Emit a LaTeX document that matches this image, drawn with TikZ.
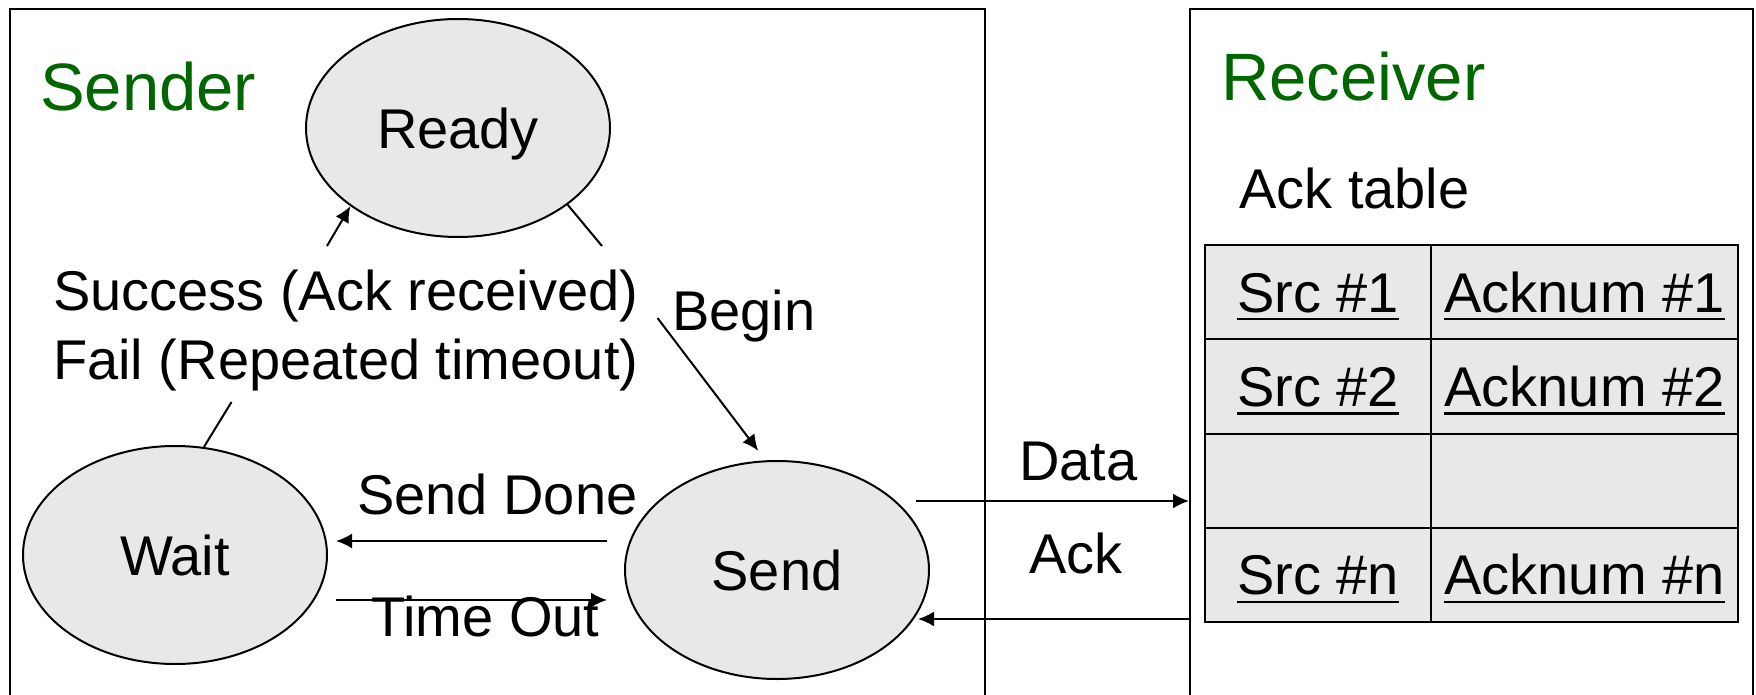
\documentclass[tikz,border=0pt]{standalone}
\usepackage{fontspec}
\setmainfont{Liberation Sans}
\usetikzlibrary{shapes.geometric,arrows.meta,calc}

\definecolor{cellgray}{RGB}{232,232,232}
\definecolor{titlegreen}{RGB}{0,102,0}

\tikzset{
  lbl/.style={font=\fontsize{56}{67}\selectfont, inner sep=0pt, anchor=base west},
  title/.style={font=\fontsize{67}{80}\selectfont, text=titlegreen, inner sep=0pt, anchor=base west},
  state/.style={ellipse, draw, line width=2pt, fill=cellgray, minimum width=304pt,
    minimum height=218pt, inner sep=0pt, font=\fontsize{56}{67}\selectfont,
    text height=40.1pt, text depth=0pt},
  frame/.style={draw, line width=2pt, inner sep=0pt},
  cell/.style={draw, line width=2pt, fill=cellgray, inner sep=0pt, anchor=north west},
  celltext/.style={font=\fontsize{56}{67}\selectfont, inner sep=0pt,
    text height=40.1pt, text depth=0pt},
  ulw/.style={line width=2.6pt},
  arr/.style={line width=2pt, -{Latex[length=16pt,width=15pt]}},
  plain/.style={line width=2pt},
}

\begin{document}
\begin{tikzpicture}[x=1pt,y=-1pt]
  \path[use as bounding box, clip] (0,0) rectangle (1756,695);
  \fill[white] (0,0) rectangle (1756,695);

  % enclosing frames (run past the lower edge)
  \node[frame, minimum width=975pt, minimum height=780pt] (sender) at (497.5,399) {};
  \node[frame, minimum width=563pt, minimum height=780pt] (recv) at (1471.5,399) {};
  \node[title] (sendtitle) at (40,111) {Sender};
  \node[title] (recvtitle) at (1221,101) {Receiver};

  % sender states
  \node[state] (ready) at (458,128) {Ready};
  \node[state] (wait) at (175,555) {Wait};
  \node[state] (send) at (777,570) {Send};

  % transition labels
  \node[lbl] (cond1) at (53,310) {Success (Ack received)};
  \node[lbl] (cond2) at (53,379) {Fail (Repeated timeout)};
  \node[lbl] (begin) at (672,330) {Begin};
  \node[lbl] (senddone) at (357,514) {Send Done};
  \node[lbl] (timeout) at (371,636) {Time Out};
  \node[lbl] (data) at (1019,480) {Data};
  \node[lbl] (ack) at (1029,573) {Ack};

  % transitions
  \coordinate (c1) at (327,246);
  \draw[arr] (c1) -- (ready.216.9);
  \coordinate (c2) at (602,246);
  \draw[plain] (ready.325.5) -- (c2);
  \coordinate (b1) at (657.5,318);
  \draw[arr, shorten >=12pt] (b1) -- (send.96.9);
  \coordinate (w1) at (231.5,402);
  \draw[plain] (w1) -- (wait.75);
  \draw[arr] ([shift={(-17,-29)}]send.west) -- ([shift={(8,-14)}]wait.east);
  \draw[arr] ([shift={(8,45)}]wait.east) -- ([shift={(-17,30)}]send.west);

  % messages between sender and receiver
  \coordinate (d0) at ([shift={(-14,-69)}]send.east);
  \draw[arr] (d0) -- (d0 -| recv.west);
  \coordinate (a0) at ([shift={(-12,49)}]send.east);
  \draw[arr] (a0 -| recv.west) -- (a0);

  % ack table
  \node[lbl] (tabletitle) at (1239,208) {Ack table};
  \foreach \r/\y in {1/244,2/338.25,3/432.5,4/526.75} {
    \node[cell, minimum width=226pt, minimum height=94.25pt] (l\r) at (1204,\y) {};
    \node[cell, minimum width=307pt, minimum height=94.25pt] (r\r) at (1430,\y) {};
  }
  \node[celltext] (s1) at (l1.center) {Src \#1};
  \node[celltext] (k1) at (r1.center) {Acknum \#1};
  \node[celltext] (s2) at (l2.center) {Src \#2};
  \node[celltext] (k2) at (r2.center) {Acknum \#2};
  \node[celltext] (sn) at (l4.center) {Src \#n};
  \node[celltext] (kn) at (r4.center) {Acknum \#n};
  \foreach \n in {s1,k1,s2,k2,sn,kn}
    \draw[ulw] ([yshift=-7pt]\n.base west) -- ([yshift=-7pt]\n.base east);
\end{tikzpicture}
\end{document}
